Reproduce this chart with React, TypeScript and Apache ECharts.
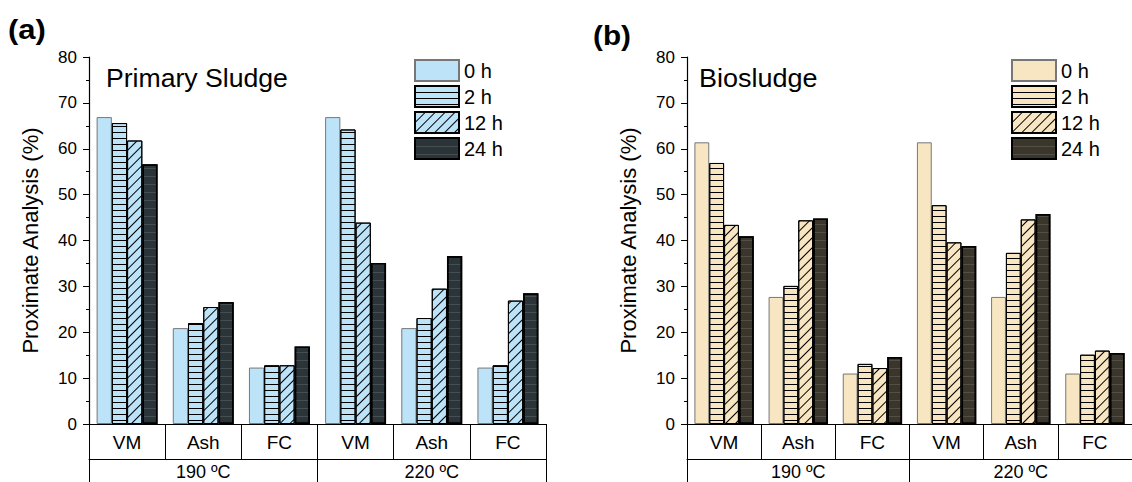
import React, { useEffect, useRef } from "react";
import * as echarts from "echarts";

const categories = ["VM", "Ash", "FC", "VM", "Ash", "FC"];
const temps = ["190 ºC", "220 ºC"];
const times = ["0 h", "2 h", "12 h", "24 h"];
const yTickMin = 0;
const yTickMax = 80;
const yTickStep = 10;

const primary0h = [66.9, 20.9, 12.3, 66.9, 20.9, 12.3];
const primary2h = [65.6, 22.0, 12.8, 64.2, 23.1, 12.8];
const primary12h = [61.8, 25.5, 12.8, 43.9, 29.5, 26.9];
const primary24h = [56.6, 26.6, 16.9, 35.1, 36.6, 28.5];

const bio0h = [61.4, 27.7, 11.0, 61.4, 27.7, 11.0];
const bio2h = [56.9, 30.1, 13.1, 47.7, 37.3, 15.1];
const bio12h = [43.4, 44.4, 12.2, 39.6, 44.6, 16.0];
const bio24h = [40.9, 44.8, 14.6, 38.8, 45.8, 15.5];

const FONT = "'Liberation Sans', Arial, sans-serif";

export default function App() {
  const ref = useRef<HTMLDivElement>(null);
  useEffect(() => {
    if (!ref.current) return;
    const chart = echarts.init(ref.current, null, { renderer: "svg" });

    const hLines = { symbol: "rect", symbolSize: 1, dashArrayX: [1, 0], dashArrayY: [1, 4.5], rotation: 0, color: "#000" };
    const diag = { symbol: "rect", symbolSize: 1, dashArrayX: [1, 0], dashArrayY: [1, 5.5], rotation: -Math.PI / 4, color: "#000" };
    const darkLines = { symbol: "rect", symbolSize: 1, dashArrayX: [1, 0], dashArrayY: [1, 7], rotation: 0, color: "rgba(255,255,255,0.12)" };

    const styles = (light: string, dark: string) => [
      { color: light, borderColor: "#777", borderWidth: 1 },
      { color: light, borderColor: "#000", borderWidth: 1, decal: hLines },
      { color: light, borderColor: "#000", borderWidth: 1, decal: diag },
      { color: dark, borderColor: "#000", borderWidth: 1.6, decal: darkLines },
    ];
    const leftStyles = styles("#bde3f9", "#2b3539");
    const rightStyles = styles("#f8e6c2", "#3b362c");

    const leftData = [primary0h, primary2h, primary12h, primary24h];
    const rightData = [bio0h, bio2h, bio12h, bio24h];

    const catKeys = categories.map((c, i) => `${c}#${i}`);

    const mkX = (gridIndex: number) => [
      {
        type: "category",
        gridIndex,
        data: catKeys,
        position: "bottom",
        axisLine: { show: true, lineStyle: { color: "#000", width: 1 } },
        axisTick: { show: true, interval: 0, length: 35, lineStyle: { color: "#000", width: 1 } },
        axisLabel: { interval: 0, fontSize: 19, color: "#000", margin: 9, formatter: (v: string) => v.split("#")[0] },
      },
      {
        type: "category",
        gridIndex,
        data: temps,
        position: "bottom",
        offset: 35,
        axisLine: { show: true, lineStyle: { color: "#000", width: 1 } },
        axisTick: { show: true, interval: 0, length: 30, lineStyle: { color: "#000", width: 1 } },
        axisLabel: { interval: 0, fontSize: 18, color: "#000", margin: 4 },
      },
    ];

    const mkY = (gridIndex: number) => ({
      type: "value",
      gridIndex,
      min: yTickMin,
      max: yTickMax,
      interval: yTickStep,
      name: "Proximate Analysis (%)",
      nameLocation: "middle",
      nameGap: 48,
      nameTextStyle: { fontSize: 22, color: "#000" },
      axisLine: { show: true, lineStyle: { color: "#000", width: 1.2 } },
      axisTick: { show: true, length: 6, lineStyle: { color: "#000" } },
      minorTick: { show: true, splitNumber: 2, length: 3, lineStyle: { color: "#000" } },
      splitLine: { show: false },
      axisLabel: { fontSize: 17, color: "#000", margin: 12 },
    });

    const series: any[] = [];
    const addSeries = (prefix: string, data: number[][], st: any[], xIdx: number, yIdx: number) => {
      times.forEach((t, i) => {
        series.push({
          type: "bar",
          name: prefix + t,
          data: data[i],
          xAxisIndex: xIdx,
          yAxisIndex: yIdx,
          barGap: "0%",
          barCategoryGap: "20%",
          itemStyle: st[i],
          emphasis: { disabled: true },
        });
      });
    };
    addSeries("L", leftData, leftStyles, 0, 0);
    addSeries("R", rightData, rightStyles, 2, 1);

    const mkLegend = (prefix: string, left: number) => ({
      data: times.map((t) => prefix + t),
      left,
      top: 59,
      orient: "vertical",
      itemWidth: 44,
      itemHeight: 21,
      itemGap: 3,
      icon: "rect",
      padding: 0,
      selectedMode: false,
      formatter: (n: string) => n.slice(1),
      textStyle: { fontSize: 20, color: "#000" },
    });

    const txt = (text: string, x: number, y: number, size: number, weight: string, scaleX: number) => ({
      type: "text",
      x,
      y,
      scaleX,
      style: { text, font: `${weight} ${size}px ${FONT}`, fill: "#000", align: "left", verticalAlign: "top" },
    });

    chart.setOption({
      animation: false,
      textStyle: { fontFamily: FONT },
      graphic: [
        txt("(a)", 8, 16, 27, "bold", 1.15),
        txt("(b)", 593, 22, 27, "bold", 1.1),
        txt("Primary Sludge", 106, 66, 25, "normal", 1.065),
        txt("Biosludge", 699, 66, 25, "normal", 1.08),
      ],
      legend: [mkLegend("L", 414), mkLegend("R", 1011)],
      grid: [
        { left: 89, top: 57, width: 457, height: 367 },
        { left: 687, top: 57, width: 457, height: 367 },
      ],
      xAxis: [...mkX(0), ...mkX(1)],
      yAxis: [mkY(0), mkY(1)],
      series,
    });
    return () => chart.dispose();
  }, []);
  return <div ref={ref} style={{ position: "absolute", left: 0, top: 0, width: 1132, height: 482 }} />;
}
